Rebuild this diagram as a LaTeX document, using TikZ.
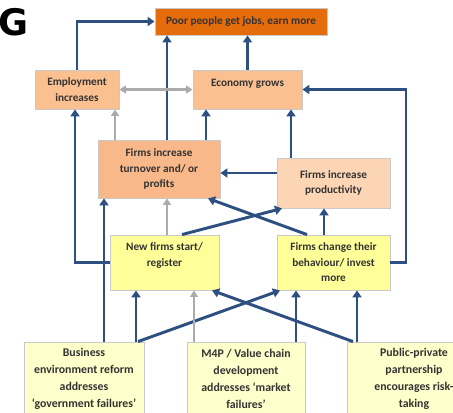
\documentclass[tikz,border=0pt]{standalone}
\usepackage{fontspec}
\setmainfont{Carlito}
\newfontfamily\headfont{DejaVu Sans}
\usetikzlibrary{arrows.meta,positioning}

\definecolor{arrowblue}{HTML}{2E5080}
\definecolor{arrowgray}{HTML}{ABABAB}
\definecolor{boxline}{HTML}{C9C9C9}
\definecolor{textdark}{HTML}{333333}
\definecolor{deeporange}{HTML}{E46C0A}
\definecolor{midorange}{HTML}{F8B889}
\definecolor{lightorange}{HTML}{FAC090}
\definecolor{paleorange}{HTML}{FCD5B5}
\definecolor{brightyellow}{HTML}{FFFF99}
\definecolor{paleyellow}{HTML}{FFFFCC}

\tikzset{
	box/.style={draw=boxline, line width=0.6pt, align=center, text=textdark,
		inner sep=2pt, font=\bfseries\fontsize{8}{11}\selectfont},
	basebox/.style={box, fill=paleyellow, minimum height=1.85cm,
		font=\bfseries\fontsize{8.4}{12}\selectfont},
	bl/.style={draw=arrowblue, line width=2.1pt, -{Triangle[length=5pt,width=6.5pt]}},
	gr/.style={draw=arrowgray, line width=1.5pt, -{Triangle[length=4.5pt,width=5.5pt]}},
}

\begin{document}
\begin{tikzpicture}[x=0.025cm, y=-0.025cm]
	\useasboundingbox (0,0) rectangle (453,413);
	\node[font=\headfont\bfseries\fontsize{26}{26}\selectfont, inner sep=0pt, anchor=west] (head) at (-2,22) {G};
	% outcome
	\node[box, fill=deeporange, minimum width=4.3cm, minimum height=0.675cm] (poor) at (241,21.5) {Poor people get jobs, earn more};
	\node[box, fill=lightorange, minimum width=2.1cm, minimum height=0.975cm] (emp) at (77,89.5) {Employment\\increases};
	\node[box, fill=lightorange, minimum width=2.725cm, minimum height=0.975cm, text depth=10pt] (eco) at (247.5,89.5) {Economy grows};
	% firm level
	\node[box, fill=midorange, minimum width=3.05cm, minimum height=1.45cm] (turn) at (159,169) {Firms increase\\turnover and/ or\\profits};
	\node[box, fill=paleorange, minimum width=2.825cm, minimum height=1.25cm] (prod) at (333.5,183) {Firms increase\\productivity};
	\node[box, fill=brightyellow, minimum width=2.725cm, minimum height=1.375cm, text depth=11pt] (newf) at (164.5,262.5) {New firms start/\\register};
	\node[box, fill=brightyellow, minimum width=2.825cm, minimum height=1.375cm] (behav) at (333.5,262.5) {Firms change their\\behaviour/ invest\\more};
	% interventions
	\node[basebox, minimum width=3cm] (biz) at (84,379) {Business\\environment reform\\addresses\\‘government failures’};
	\node[basebox, minimum width=2.95cm] (m4p) at (246,379) {M4P / Value chain\\development\\addresses ‘market\\failures’};
	\node[basebox, minimum width=3.35cm] (ppp) at (414,379) {Public-private\\partnership\\encourages risk-\\taking};

	% top level links
	\draw[bl] (emp.north) |- (poor.west);
	\draw[bl] (turn.north -| 167,0) -- (poor.south -| 167,0);
	\draw[bl] (eco.north) -- (eco.north |- poor.south);
	\draw[gr, {Triangle[length=4.5pt,width=5.5pt]}-{Triangle[length=4.5pt,width=5.5pt]}] (emp.east) -- (eco.west);
	\draw[bl] (turn.north -| 206,0) -- (eco.south -| 206,0);
	\draw[gr] (turn.north -| 115,0) -- (emp.south -| 115,0);
	\draw[bl] (prod.north -| 291,0) -- (eco.south -| 291,0);
	\draw[bl] (prod.west |- 0,173) -- (turn.east |- 0,173);
	\draw[bl] (behav.east) -- (behav.east -| 406,0) |- (eco.east);
	\draw[bl] (newf.west) -- (newf.west -| 75,0) -- (emp.south -| 75,0);
	% firm level links
	\draw[gr] (newf.north -| 167,0) -- (turn.south -| 167,0);
	\draw[bl] (newf.north -| 182,0) -- (prod.south -| 282,0);
	\draw[bl] (behav.north -| 307,0) -- (turn.south -| 208,0);
	\draw[bl] (behav.north -| 324,0) -- (prod.south -| 324,0);
	% intervention links
	\draw[bl] (biz.north -| 104,0) -- (turn.south -| 104,0);
	\draw[bl] (biz.north -| 136,0) -- (newf.south -| 136,0);
	\draw[bl] (biz.north -| 138,0) -- (behav.south -| 280,0);
	\draw[gr] (m4p.north -| 194,0) -- (newf.south -| 194,0);
	\draw[bl] (m4p.north -| 296,0) -- (behav.south -| 296,0);
	\draw[bl] (ppp.north -| 357,0) -- (behav.south -| 357,0);
	\draw[bl] (ppp.north -| 353,0) -- (newf.south -| 212,0);
\end{tikzpicture}
\end{document}
